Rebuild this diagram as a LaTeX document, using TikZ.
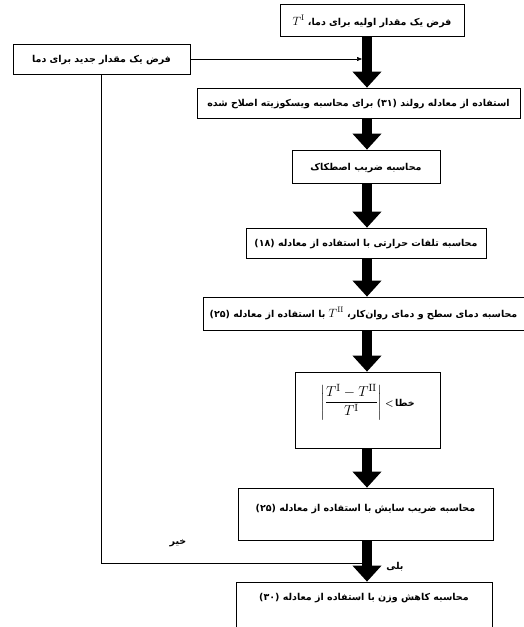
\documentclass[tikz,border=0pt]{standalone}
\usepackage{fontspec}
\usepackage{amsmath}
\usetikzlibrary{arrows.meta}
\TeXXeTstate=1
\newfontfamily\arabicfont[Script=Arabic]{DejaVu Sans}
\newcommand{\fa}[1]{{\arabicfont\beginR #1\endR}}
\tikzset{
  fbox/.style={draw, line width=0.7pt, inner sep=0pt, anchor=base,
    font=\fontsize{9.5}{11}\selectfont\bfseries},
  bigarrow/.style={line width=10pt, -{Triangle[width=28pt,length=16pt]}},
  thinline/.style={line width=0.6pt},
  lbl/.style={inner sep=1pt, font=\fontsize{9.5}{11}\selectfont\bfseries}
}
\begin{document}
\begin{tikzpicture}[x=1pt,y=-1pt]
\useasboundingbox (0,0) rectangle (524,627);
\coordinate (ax) at (367,0);
\coordinate (fb) at (101,0);
% boxes
\node[fbox, minimum width=184pt, text height=21pt, text depth=11pt] (b1) at (372,25)
  {\fa{فرض یک مقدار اولیه برای دما، \hbox{\fontsize{12}{14}\selectfont$T^{\mathrm{I}}$}}};
\node[fbox, minimum width=177pt, text height=18pt, text depth=12pt] (nb) at (101.5,62)
  {\fa{فرض یک مقدار جدید برای دما}};
\node[fbox, minimum width=323pt, text height=18pt, text depth=12pt] (b2) at (358.5,106)
  {\fa{استفاده از معادله رولند (۳۱) برای محاسبه ویسکوزیته اصلاح شده}};
\node[fbox, minimum width=148pt, text height=20pt, text depth=13pt] (b3) at (366,170)
  {\fa{محاسبه ضریب اصطکاک}};
\node[fbox, minimum width=240pt, text height=18pt, text depth=12pt] (b4) at (366,246)
  {\fa{محاسبه تلفات حرارتی با استفاده از معادله (۱۸)}};
\node[fbox, minimum width=321pt, text height=20pt, text depth=13pt] (b5) at (363.5,317)
  {\fa{محاسبه دمای سطح و دمای روان‌کار، \hbox{\fontsize{12}{14}\selectfont$T^{\mathrm{II}}$} با استفاده از معادله (۲۵)}};
\node[fbox, minimum width=145pt, text height=34pt, text depth=42pt] (b6) at (367.5,406)
  {\fontsize{15}{18}\selectfont$\left|\dfrac{T^{\mathrm{I}}-T^{\mathrm{II}}}{T^{\mathrm{I}}}\right|$\,{\fontsize{9.5}{11}\selectfont<\,\fa{خطا}}};
\node[fbox, minimum width=255pt, text height=23pt, text depth=29pt] (b7) at (365.5,511)
  {\fa{محاسبه ضریب سایش با استفاده از معادله (۲۵)}};
\node[fbox, minimum width=256pt, text height=18pt, text depth=45pt] (b8) at (364,600)
  {\fa{محاسبه کاهش وزن با استفاده از معادله (۳۰)}};
% thick arrows
\draw[bigarrow] (b1.south -| ax) -- (b2.north -| ax);
\draw[bigarrow] (b2.south -| ax) -- (b3.north -| ax);
\draw[bigarrow] (b3.south -| ax) -- (b4.north -| ax);
\draw[bigarrow] (b4.south -| ax) -- (b5.north -| ax);
\draw[bigarrow] (b5.south -| ax) -- (b6.north -| ax);
\draw[bigarrow] (b6.south -| ax) -- (b7.north -| ax);
\draw[bigarrow] (b7.south -| ax) -- (b8.north -| ax);
% thin connectors
\coordinate (in1) at (362,0);
\draw[thinline, -{Triangle[length=5pt,width=4pt]}] (nb.east) -- (nb.east -| in1);
\coordinate (j) at (362,563);
\draw[thinline] (j) -| (nb.south -| fb);
% labels
\node[lbl] (no) at (178,543) {\fa{خیر}};
\node[lbl] (yes) at (395,567) {\fa{بلی}};
\end{tikzpicture}
\end{document}
